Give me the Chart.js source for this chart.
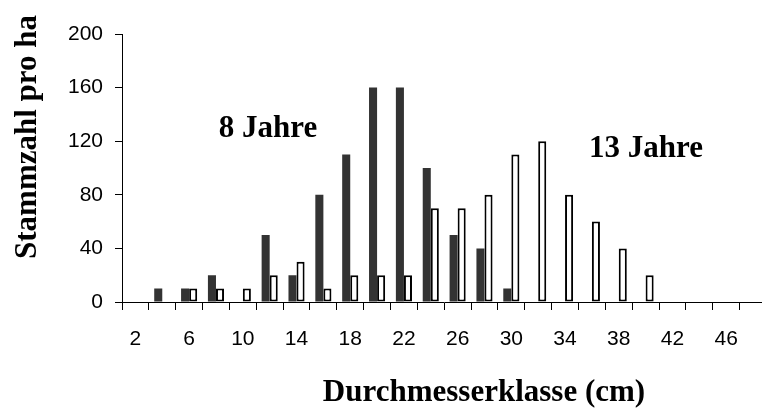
<!DOCTYPE html>
<html>
<head>
<meta charset="utf-8">
<script src="https://cdn.jsdelivr.net/npm/chart.js@4/dist/chart.umd.min.js"></script>
<style>
  html, body { margin: 0; padding: 0; background: #fff; overflow: hidden; }
  #wrap { position: relative; width: 770px; height: 408px; }
</style>
</head>
<body>
<div id="wrap"><canvas id="chart"></canvas></div>
<script>
// ========== DATA ==========
const klassen = ["2", "4", "6", "8", "10", "12", "14", "16", "18", "20", "22", "24",
                 "26", "28", "30", "32", "34", "36", "38", "40", "42", "44", "46", "48"];
const jahre8  = [0, 10, 10, 20, 0, 50, 20, 80, 110, 160, 160, 100,
                 50, 40, 10, 0, 0, 0, 0, 0, 0, 0, 0, 0];
const jahre13 = [0, 0, 10, 10, 10, 20, 30, 10, 20, 20, 20, 70,
                 70, 80, 110, 120, 80, 60, 40, 20, 0, 0, 0, 0];
const yTicks = [0, 40, 80, 120, 160, 200];

const serif = "'Liberation Serif', 'Times New Roman', serif";
const sans = "'Liberation Sans', Arial, sans-serif";

// ========== TEXT PLUGIN ==========
const texte = {
  id: "texte",
  afterDraw(chart) {
    const ctx = chart.ctx;
    const area = chart.chartArea;
    ctx.save();
    ctx.fillStyle = "#000";
    ctx.font = "bold 31px " + serif;
    ctx.textAlign = "center";
    ctx.textBaseline = "alphabetic";

    // Beschriftung der Reihen
    ctx.fillText("8 Jahre", 268, 137);
    ctx.fillText("13 Jahre", 646, 157);

    // x-Titel
    ctx.fillText("Durchmesserklasse (cm)", 484, 401);

    // y-Titel
    ctx.translate(36, (area.top + area.bottom) / 2 - 31);
    ctx.rotate(-Math.PI / 2);
    ctx.fillText("Stammzahl pro ha", 0, 0);
    ctx.restore();
  }
};

// ========== CHART ==========
new Chart(document.getElementById("chart"), {
  type: "bar",
  data: {
    labels: klassen,
    datasets: [
      {
        label: "8 Jahre",
        data: jahre8,
        backgroundColor: "#333333",
        borderWidth: 0,
        categoryPercentage: 0.6,
        barPercentage: 1.0
      },
      {
        label: "13 Jahre",
        data: jahre13,
        backgroundColor: "#ffffff",
        borderColor: "#000000",
        borderWidth: 2,
        borderSkipped: false,
        categoryPercentage: 0.6,
        barPercentage: 1.0
      }
    ]
  },
  options: {
    responsive: true,
    maintainAspectRatio: false,
    animation: false,
    layout: { padding: { top: 34, left: 0, right: 0, bottom: 0 } },
    plugins: {
      legend: { display: false },
      tooltip: { enabled: false }
    },
    scales: {
      x: {
        offset: true,
        afterFit(scale) { scale.height = 106; },
        grid: {
          offset: true,
          drawOnChartArea: false,
          drawTicks: true,
          tickLength: 8,
          color: "#000"
        },
        border: { color: "#000", width: 1 },
        ticks: {
          autoSkip: false,
          maxRotation: 0,
          padding: 17,
          color: "#000",
          font: { family: sans, size: 21 },
          callback: (v, i) => (i % 2 === 0 ? klassen[i] : "")
        }
      },
      y: {
        min: 0,
        max: 200,
        afterFit(scale) { scale.width = 122; },
        afterBuildTicks(scale) { scale.ticks = yTicks.map(v => ({ value: v })); },
        grid: {
          drawOnChartArea: false,
          drawTicks: true,
          tickLength: 7,
          color: "#000"
        },
        border: { color: "#000", width: 1 },
        ticks: {
          padding: 12,
          color: "#000",
          font: { family: sans, size: 21 }
        }
      }
    }
  },
  plugins: [texte]
});
</script>
</body>
</html>
